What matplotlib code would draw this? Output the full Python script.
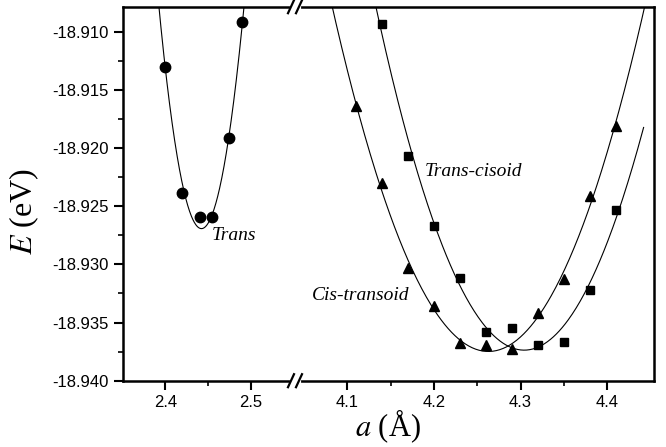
import numpy as np
import matplotlib
matplotlib.use('Agg')
import matplotlib.pyplot as plt
from matplotlib.ticker import MultipleLocator, FixedLocator, FormatStrFormatter
from matplotlib.lines import Line2D

#trans conformer (circles)
trans_a = [2.40, 2.42, 2.44, 2.455, 2.475, 2.49]
trans_e = [-18.9130, -18.9239, -18.9259, -18.9259, -18.9191, -18.9092]

#trans-cisoid conformer (squares)
tc_a = [4.14, 4.17, 4.20, 4.23, 4.26, 4.29, 4.32, 4.35, 4.38, 4.41]
tc_e = [-18.9093, -18.9207, -18.9267, -18.9312, -18.9358, -18.9355,
        -18.9369, -18.9367, -18.9322, -18.9253]

#cis-transoid conformer (triangles)
ct_a = [4.11, 4.14, 4.17, 4.20, 4.23, 4.26, 4.29, 4.32, 4.35, 4.38, 4.41]
ct_e = [-18.9164, -18.9230, -18.9303, -18.9336, -18.9368, -18.9369,
        -18.9373, -18.9342, -18.9313, -18.9241, -18.9181]

#fit domains of the drawn curves
trans_fit_range = (2.38, 2.51)
tc_fit_range = (4.10, 4.442)
ct_fit_range = (4.05, 4.445)

x_left_lim = (2.35, 2.5518)
x_right_lim = (4.0397, 4.454)
y_lim = (-18.940, -18.90785)

plt.rcParams['font.family'] = 'Liberation Sans'
plt.rcParams['mathtext.fontset'] = 'stix'

W, H = 666, 447
fig = plt.figure(figsize=(W / 100, H / 100), dpi=100)

#axes positions in pixels
x0, xb, x1 = 122.7, 295.0, 654.0
ytop, ybot = 6.7, 380.7
b = 1 - ybot / H
h = (ybot - ytop) / H
ax1 = fig.add_axes([x0 / W, b, (xb - x0) / W, h])
ax2 = fig.add_axes([xb / W, b, (x1 - xb) / W, h])

#draws a parabola fitted to the points
def draw_fit(ax, xs, ys, rng):
    coef = np.polyfit(xs, ys, 2)
    xx = np.linspace(rng[0], rng[1], 300)
    ax.plot(xx, np.polyval(coef, xx), color='black', lw=0.8)

draw_fit(ax1, trans_a, trans_e, trans_fit_range)
ax1.plot(trans_a, trans_e, 'o', color='black', ms=7.5, clip_on=False)

draw_fit(ax2, tc_a, tc_e, tc_fit_range)
draw_fit(ax2, ct_a, ct_e, ct_fit_range)
ax2.plot(tc_a, tc_e, 's', color='black', ms=6, clip_on=False)
ax2.plot(ct_a, ct_e, '^', color='black', ms=7, clip_on=False)

#axis styling
for ax in (ax1, ax2):
    ax.set_ylim(*y_lim)
    for sp in ax.spines.values():
        sp.set_linewidth(1.8)
    ax.tick_params(which='major', direction='out', length=6.5, width=1.5,
                   labelsize=12, top=False, right=False)
    ax.tick_params(which='minor', direction='out', length=3.5, width=1.2,
                   top=False, right=False)
    ax.tick_params(axis='x', which='major', pad=4)

ax1.set_xlim(*x_left_lim)
ax2.set_xlim(*x_right_lim)
ax1.spines['right'].set_visible(False)
ax2.spines['left'].set_visible(False)

ax1.xaxis.set_major_locator(FixedLocator([2.4, 2.5]))
ax1.xaxis.set_minor_locator(FixedLocator([2.45]))
ax1.xaxis.set_major_formatter(FormatStrFormatter('%.1f'))
ax2.xaxis.set_major_locator(FixedLocator([4.1, 4.2, 4.3, 4.4]))
ax2.xaxis.set_minor_locator(FixedLocator([4.15, 4.25, 4.35]))
ax2.xaxis.set_major_formatter(FormatStrFormatter('%.1f'))

ax1.yaxis.set_major_locator(MultipleLocator(0.005))
ax1.yaxis.set_minor_locator(MultipleLocator(0.0025))
ax1.yaxis.set_major_formatter(FormatStrFormatter('%.3f'))
ax2.tick_params(axis='y', which='both', left=False, labelleft=False)

#curve labels
ax1.text(2.4543, -18.92755, 'Trans', fontsize=14, fontstyle='italic',
         family='Liberation Serif', va='center', ha='left')
ax2.text(4.1896, -18.9220, 'Trans-cisoid', fontsize=14, fontstyle='italic',
         family='Liberation Serif', va='center', ha='left')
ax2.text(4.059, -18.93266, 'Cis-transoid', fontsize=14, fontstyle='italic',
         family='Liberation Serif', va='center', ha='left')

#axis titles
fig.text(24 / W, 1 - 212 / H, '$E$ (eV)', rotation=90, fontsize=23,
         family='Liberation Serif', ha='center', va='center')
fig.text(388 / W, 1 - 426 / H, '$a$ (Å)', fontsize=22,
         family='Liberation Serif', ha='center', va='center')

#axis break marks
for yy in (ytop, ybot):
    fy = 1 - yy / H
    fig.add_artist(Line2D([291.5 / W, 298.5 / W], [fy, fy], color='white',
                          lw=3, transform=fig.transFigure, zorder=5))
    for xc in (291.0, 299.0):
        fig.add_artist(Line2D([(xc - 3) / W, (xc + 3) / W],
                              [fy - 6.5 / H, fy + 6.5 / H], color='black',
                              lw=1.6, transform=fig.transFigure, zorder=6))

fig.savefig('out.png', dpi=100)
